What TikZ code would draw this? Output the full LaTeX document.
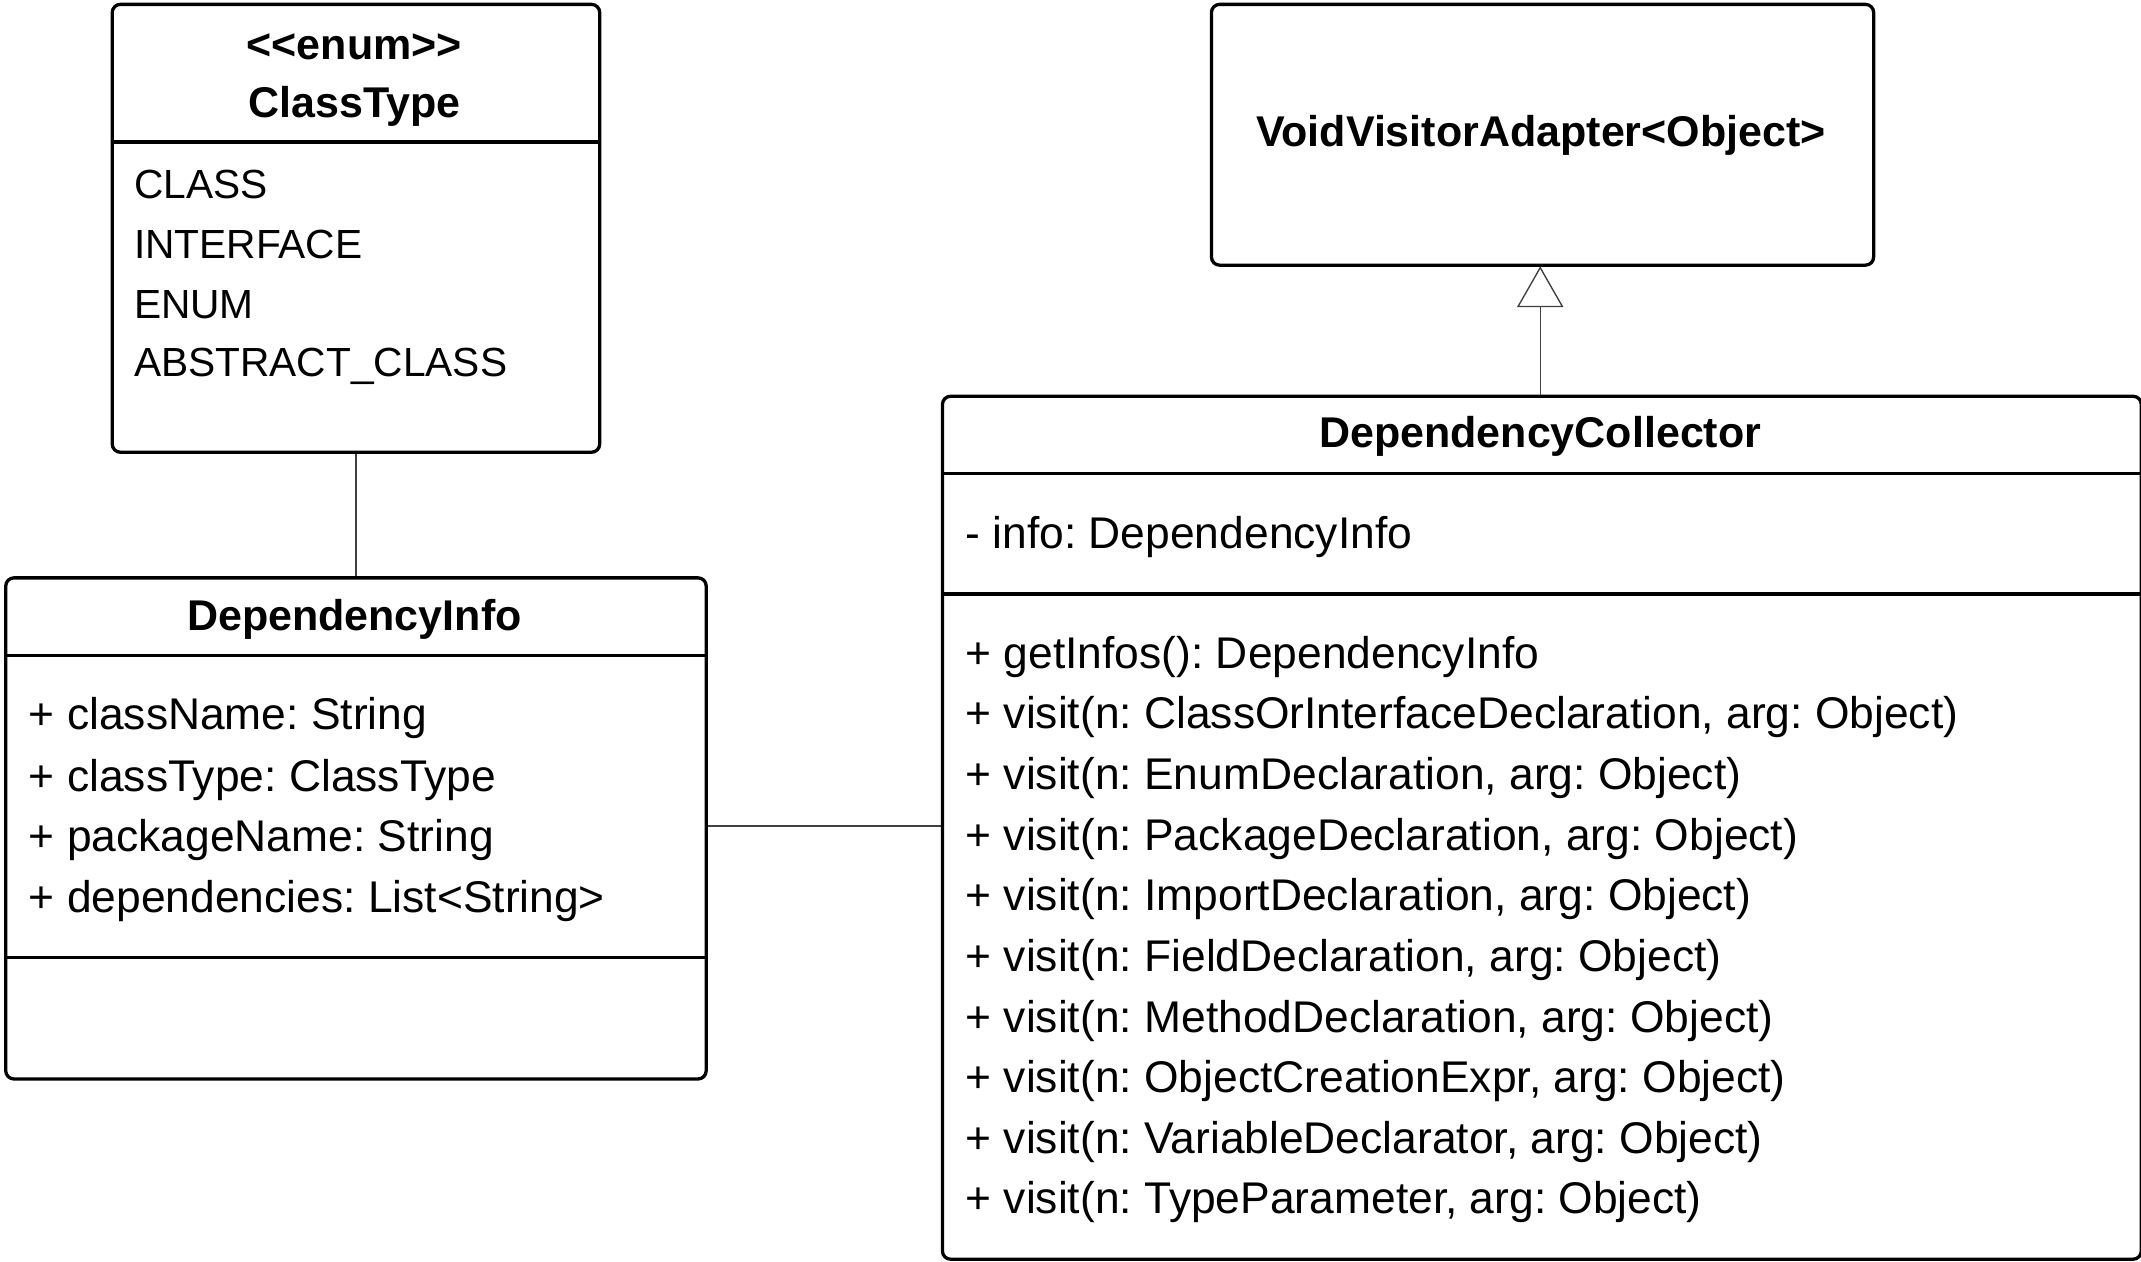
\documentclass[tikz,border=0pt]{standalone}
\usepackage{fontspec}
\setmainfont{Liberation Sans}
\usetikzlibrary{arrows.meta}
\frenchspacing
\tikzset{
  umlbox/.style={draw=black, line width=2.4pt, rounded corners=6pt, fill=white, inner sep=0pt, anchor=north west},
  sepline/.style={draw=black, line width=2.4pt},
  title/.style={font=\fontsize{31.5}{36}\selectfont\bfseries, inner sep=0pt},
  member/.style={font=\fontsize{32.5}{36}\selectfont, inner sep=0pt, anchor=west},
  literal/.style={font=\fontsize{29.8}{36}\selectfont, inner sep=0pt, anchor=west},
  conn/.style={draw=black!75, line width=1pt},
  gen/.style={conn, -{Triangle[open, length=30pt, width=34pt]}},
}
\begin{document}
\begin{tikzpicture}[x=1pt,y=-1pt]
\useasboundingbox (0,0) rectangle (1568,924);
% ClassType
\node[umlbox, minimum width=357pt, minimum height=328pt] (ct) at (81,2) {};
\draw[sepline] (81,104) -- (438,104);
\node[title] (ctst) at (259.5,34.5) {<\kern0pt<enum>\kern0pt>};
\node[title] (ctn) at (259.5,78) {ClassType};
\node[literal] (ct1) at (98,135) {CLASS};
\node[literal] (ct2) at (98,179) {INTERFACE};
\node[literal] (ct3) at (98,223) {ENUM};
\node[literal] (ct4) at (98,268) {ABSTRACT\_CLASS};
% DependencyInfo
\node[umlbox, minimum width=513pt, minimum height=367pt] (di) at (3,422) {};
\draw[sepline] (3,480) -- (516,480);
\draw[sepline] (3,701) -- (516,701);
\node[title] (din) at (259.5,453.5) {DependencyInfo};
\node[member] (di1) at (21,526) {+ className: String};
\node[member] (di2) at (21,571) {+ classType: ClassType};
\node[member] (di3) at (21,615) {+ packageName: String};
\node[member] (di4) at (21,660) {+ dependencies: List<String>};
% VoidVisitorAdapter
\node[umlbox, minimum width=485pt, minimum height=191pt] (vva) at (886,2) {};
\node[title] (vvan) at (1128.5,99.5) {VoidVisitorAdapter<Object>};
% DependencyCollector
\node[umlbox, minimum width=878pt, minimum height=632pt] (dc) at (689,289) {};
\draw[sepline] (689,347) -- (1567,347);
\draw[sepline] (689,435) -- (1567,435);
\node[title] (dcn) at (1128,319.5) {DependencyCollector};
\node[member] (dca) at (707,393) {- info: DependencyInfo};
\node[member] (m0) at (707,481) {+ getInfos(): DependencyInfo};
\node[member] (m1) at (707,525.4) {+ visit(n: ClassOrInterfaceDeclaration, arg: Object)};
\node[member] (m2) at (707,569.8) {+ visit(n: EnumDeclaration, arg: Object)};
\node[member] (m3) at (707,614.2) {+ visit(n: PackageDeclaration, arg: Object)};
\node[member] (m4) at (707,658.6) {+ visit(n: ImportDeclaration, arg: Object)};
\node[member] (m5) at (707,703) {+ visit(n: FieldDeclaration, arg: Object)};
\node[member] (m6) at (707,747.4) {+ visit(n: MethodDeclaration, arg: Object)};
\node[member] (m7) at (707,791.8) {+ visit(n: ObjectCreationExpr, arg: Object)};
\node[member] (m8) at (707,836.2) {+ visit(n: VariableDeclarator, arg: Object)};
\node[member] (m9) at (707,880.6) {+ visit(n: TypeParameter, arg: Object)};
% connectors
\draw[conn] (ct.south) -- (ct.south |- di.north);
\draw[conn] (di.east |- 0,605) -- (dc.west |- 0,605);
\draw[gen] (dc.north -| 1128,0) -- (1128,195);
\end{tikzpicture}
\end{document}
